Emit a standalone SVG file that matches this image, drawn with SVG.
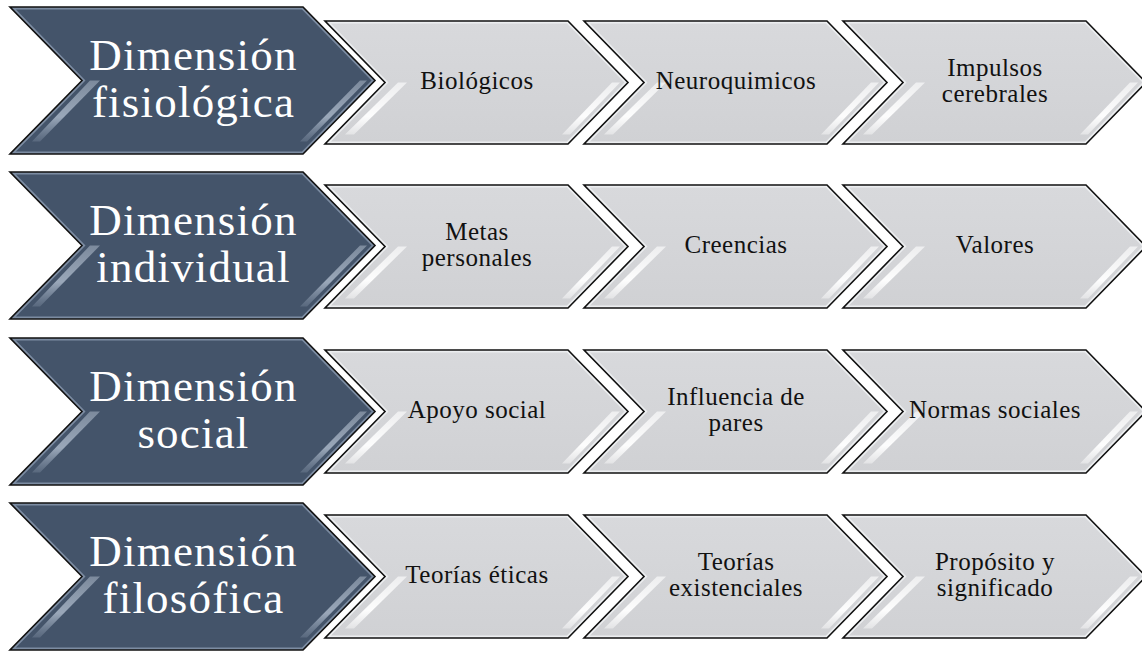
<svg xmlns="http://www.w3.org/2000/svg" width="1142" height="651" viewBox="0 0 1142 651">
<style>
.dk{fill:#44546a;stroke:#7c8ca2;stroke-width:5}
.lt{fill:url(#lg);stroke:#eceef0;stroke-width:5}
.ol{fill:none;stroke:#111;stroke-width:1.6;stroke-linejoin:miter}
.ds{fill:url(#dsg)}
.ls{fill:url(#lsg)}
.dt{font-family:"Palatino Linotype","Book Antiqua",Palatino,"Liberation Serif",serif;font-size:45px;letter-spacing:1.2px;fill:#fff;text-anchor:middle}
.tt{font-family:"Palatino Linotype","Book Antiqua",Palatino,"Liberation Serif",serif;font-size:25px;letter-spacing:0.5px;fill:#111;text-anchor:middle}
</style>
<defs>
<clipPath id="cp" clipPathUnits="objectBoundingBox"><polygon points="0,0 0.802,0 1,0.5 0.802,1 0,1 0.198,0.5"/></clipPath>
<linearGradient id="lg" x1="0" y1="0" x2="0" y2="1"><stop offset="0" stop-color="#d8d9dc"/><stop offset="1" stop-color="#d0d1d4"/></linearGradient>
<linearGradient id="dsg" x1="0" y1="0" x2="0" y2="1"><stop offset="0" stop-color="#b4c0cf" stop-opacity="0.5"/><stop offset="0.6" stop-color="#a9b6c7" stop-opacity="0.85"/><stop offset="1" stop-color="#8a99ad" stop-opacity="0.3"/></linearGradient>
<linearGradient id="lsg" x1="0" y1="0" x2="0" y2="1"><stop offset="0" stop-color="#fff" stop-opacity="0.6"/><stop offset="0.65" stop-color="#fff" stop-opacity="0.95"/><stop offset="1" stop-color="#fff" stop-opacity="0.4"/></linearGradient>
</defs>
<g id="connectors"/>

<!-- Row 1 -->
<g id="dim-fisiologica">
<polygon class="dk" clip-path="url(#cp)" points="10,7 303,7 375,80.5 303,154 10,154 82,80.5"/>
<polygon class="ds" points="360,80.5 367,80.5 307,141.5 300,141.5"/>
<polygon class="ds" points="90,80.5 100,80.5 40,141.5 32,141.5"/>
<polygon class="ol" points="10,7 303,7 375,80.5 303,154 10,154 82,80.5"/>
<text class="dt"><tspan x="193.5" y="70">Dimensión</tspan><tspan x="193.5" y="117">fisiológica</tspan></text>
</g>
<g id="biologicos">
<polygon class="lt" clip-path="url(#cp)" points="325,21 568,21 628,82.5 568,144 325,144 385,82.5"/>
<polygon class="ls" points="612,82.5 620,82.5 570,134.5 562,134.5"/>
<polygon class="ls" points="398,82.5 407,82.5 354,134.5 345,134.5"/>
<polygon class="ol" points="325,21 568,21 628,82.5 568,144 325,144 385,82.5"/>
<text class="tt" x="477" y="89">Biológicos</text>
</g>
<g id="neuroquimicos">
<polygon class="lt" clip-path="url(#cp)" points="584,21 827,21 887,82.5 827,144 584,144 644,82.5"/>
<polygon class="ls" points="871,82.5 879,82.5 829,134.5 821,134.5"/>
<polygon class="ls" points="657,82.5 666,82.5 613,134.5 604,134.5"/>
<polygon class="ol" points="584,21 827,21 887,82.5 827,144 584,144 644,82.5"/>
<text class="tt" x="736" y="89">Neuroquimicos</text>
</g>
<g id="impulsos">
<polygon class="lt" clip-path="url(#cp)" points="843,21 1086,21 1146,82.5 1086,144 843,144 903,82.5"/>
<polygon class="ls" points="1130,82.5 1138,82.5 1088,134.5 1080,134.5"/>
<polygon class="ls" points="916,82.5 925,82.5 872,134.5 863,134.5"/>
<polygon class="ol" points="843,21 1086,21 1146,82.5 1086,144 843,144 903,82.5"/>
<text class="tt"><tspan x="995" y="76">Impulsos</tspan><tspan x="995" y="102">cerebrales</tspan></text>
</g>

<!-- Row 2 -->
<g id="dim-individual">
<polygon class="dk" clip-path="url(#cp)" points="10,172 303,172 375,245.5 303,319 10,319 82,245.5"/>
<polygon class="ds" points="360,245.5 367,245.5 307,306.5 300,306.5"/>
<polygon class="ds" points="90,245.5 100,245.5 40,306.5 32,306.5"/>
<polygon class="ol" points="10,172 303,172 375,245.5 303,319 10,319 82,245.5"/>
<text class="dt"><tspan x="193.5" y="235">Dimensión</tspan><tspan x="193.5" y="282">individual</tspan></text>
</g>
<g id="metas">
<polygon class="lt" clip-path="url(#cp)" points="325,185 568,185 628,246.5 568,308 325,308 385,246.5"/>
<polygon class="ls" points="612,246.5 620,246.5 570,298.5 562,298.5"/>
<polygon class="ls" points="398,246.5 407,246.5 354,298.5 345,298.5"/>
<polygon class="ol" points="325,185 568,185 628,246.5 568,308 325,308 385,246.5"/>
<text class="tt"><tspan x="477" y="240">Metas</tspan><tspan x="477" y="266">personales</tspan></text>
</g>
<g id="creencias">
<polygon class="lt" clip-path="url(#cp)" points="584,185 827,185 887,246.5 827,308 584,308 644,246.5"/>
<polygon class="ls" points="871,246.5 879,246.5 829,298.5 821,298.5"/>
<polygon class="ls" points="657,246.5 666,246.5 613,298.5 604,298.5"/>
<polygon class="ol" points="584,185 827,185 887,246.5 827,308 584,308 644,246.5"/>
<text class="tt" x="736" y="253">Creencias</text>
</g>
<g id="valores">
<polygon class="lt" clip-path="url(#cp)" points="843,185 1086,185 1146,246.5 1086,308 843,308 903,246.5"/>
<polygon class="ls" points="1130,246.5 1138,246.5 1088,298.5 1080,298.5"/>
<polygon class="ls" points="916,246.5 925,246.5 872,298.5 863,298.5"/>
<polygon class="ol" points="843,185 1086,185 1146,246.5 1086,308 843,308 903,246.5"/>
<text class="tt" x="995" y="253">Valores</text>
</g>

<!-- Row 3 -->
<g id="dim-social">
<polygon class="dk" clip-path="url(#cp)" points="10,338 303,338 375,411.5 303,485 10,485 82,411.5"/>
<polygon class="ds" points="360,411.5 367,411.5 307,472.5 300,472.5"/>
<polygon class="ds" points="90,411.5 100,411.5 40,472.5 32,472.5"/>
<polygon class="ol" points="10,338 303,338 375,411.5 303,485 10,485 82,411.5"/>
<text class="dt"><tspan x="193.5" y="401">Dimensión</tspan><tspan x="193.5" y="448">social</tspan></text>
</g>
<g id="apoyo">
<polygon class="lt" clip-path="url(#cp)" points="325,350 568,350 628,411.5 568,473 325,473 385,411.5"/>
<polygon class="ls" points="612,411.5 620,411.5 570,463.5 562,463.5"/>
<polygon class="ls" points="398,411.5 407,411.5 354,463.5 345,463.5"/>
<polygon class="ol" points="325,350 568,350 628,411.5 568,473 325,473 385,411.5"/>
<text class="tt" x="477" y="418">Apoyo social</text>
</g>
<g id="influencia">
<polygon class="lt" clip-path="url(#cp)" points="584,350 827,350 887,411.5 827,473 584,473 644,411.5"/>
<polygon class="ls" points="871,411.5 879,411.5 829,463.5 821,463.5"/>
<polygon class="ls" points="657,411.5 666,411.5 613,463.5 604,463.5"/>
<polygon class="ol" points="584,350 827,350 887,411.5 827,473 584,473 644,411.5"/>
<text class="tt"><tspan x="736" y="405">Influencia de</tspan><tspan x="736" y="431">pares</tspan></text>
</g>
<g id="normas">
<polygon class="lt" clip-path="url(#cp)" points="843,350 1086,350 1146,411.5 1086,473 843,473 903,411.5"/>
<polygon class="ls" points="1130,411.5 1138,411.5 1088,463.5 1080,463.5"/>
<polygon class="ls" points="916,411.5 925,411.5 872,463.5 863,463.5"/>
<polygon class="ol" points="843,350 1086,350 1146,411.5 1086,473 843,473 903,411.5"/>
<text class="tt" x="995" y="418">Normas sociales</text>
</g>

<!-- Row 4 -->
<g id="dim-filosofica">
<polygon class="dk" clip-path="url(#cp)" points="10,503 303,503 375,576.5 303,650 10,650 82,576.5"/>
<polygon class="ds" points="360,576.5 367,576.5 307,637.5 300,637.5"/>
<polygon class="ds" points="90,576.5 100,576.5 40,637.5 32,637.5"/>
<polygon class="ol" points="10,503 303,503 375,576.5 303,650 10,650 82,576.5"/>
<text class="dt"><tspan x="193.5" y="566">Dimensión</tspan><tspan x="193.5" y="613">filosófica</tspan></text>
</g>
<g id="teorias-eticas">
<polygon class="lt" clip-path="url(#cp)" points="325,515 568,515 628,576.5 568,638 325,638 385,576.5"/>
<polygon class="ls" points="612,576.5 620,576.5 570,628.5 562,628.5"/>
<polygon class="ls" points="398,576.5 407,576.5 354,628.5 345,628.5"/>
<polygon class="ol" points="325,515 568,515 628,576.5 568,638 325,638 385,576.5"/>
<text class="tt" x="477" y="583">Teorías éticas</text>
</g>
<g id="teorias-existenciales">
<polygon class="lt" clip-path="url(#cp)" points="584,515 827,515 887,576.5 827,638 584,638 644,576.5"/>
<polygon class="ls" points="871,576.5 879,576.5 829,628.5 821,628.5"/>
<polygon class="ls" points="657,576.5 666,576.5 613,628.5 604,628.5"/>
<polygon class="ol" points="584,515 827,515 887,576.5 827,638 584,638 644,576.5"/>
<text class="tt"><tspan x="736" y="570">Teorías</tspan><tspan x="736" y="596">existenciales</tspan></text>
</g>
<g id="proposito">
<polygon class="lt" clip-path="url(#cp)" points="843,515 1086,515 1146,576.5 1086,638 843,638 903,576.5"/>
<polygon class="ls" points="1130,576.5 1138,576.5 1088,628.5 1080,628.5"/>
<polygon class="ls" points="916,576.5 925,576.5 872,628.5 863,628.5"/>
<polygon class="ol" points="843,515 1086,515 1146,576.5 1086,638 843,638 903,576.5"/>
<text class="tt"><tspan x="995" y="570">Propósito y</tspan><tspan x="995" y="596">significado</tspan></text>
</g>
</svg>
